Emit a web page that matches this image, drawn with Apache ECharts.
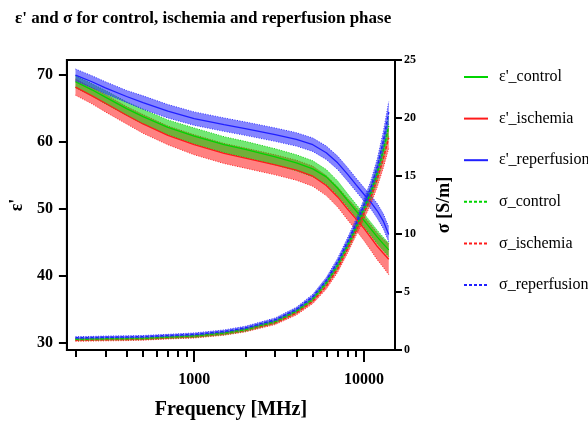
<!DOCTYPE html>
<html><head><meta charset="utf-8">
<script src="https://cdn.jsdelivr.net/npm/echarts@6/dist/echarts.min.js"></script>
<style>html,body{margin:0;padding:0;background:#fff}#c{width:588px;height:432px}</style>
</head><body><div id="c"></div>
<script>
// ---- data ----
const freqMHz = [200, 250, 300, 400, 500, 700, 1000, 1500, 2000, 3000, 4000, 5000, 6000, 7000, 8000, 9000, 10000, 11000, 12000, 13000, 14000];

const epsControl     = [69.0, 67.8, 66.7, 65.0, 63.8, 62.2, 60.9, 59.6, 58.9, 57.8, 56.9, 56.0, 54.8, 53.1, 51.3, 49.7, 48.3, 47.0, 45.8, 44.8, 43.9];
const epsControlSd   = [0.9, 0.9, 1.0, 1.0, 1.1, 1.1, 1.2, 1.2, 1.2, 1.2, 1.2, 1.2, 1.1, 1.1, 1.0, 1.0, 1.0, 1.0, 1.0, 1.0, 1.0];
const epsIschemia    = [68.2, 66.9, 65.8, 64.0, 62.7, 61.0, 59.6, 58.3, 57.6, 56.6, 55.8, 54.9, 53.5, 51.8, 50.0, 48.5, 47.1, 45.7, 44.4, 43.4, 42.5];
const epsIschemiaSd  = [1.2, 1.2, 1.3, 1.3, 1.4, 1.4, 1.5, 1.5, 1.5, 1.5, 1.5, 1.5, 1.5, 1.5, 1.6, 1.7, 1.8, 1.9, 2.0, 2.1, 2.3];
const epsReperf      = [70.0, 69.0, 68.1, 66.8, 65.9, 64.6, 63.5, 62.6, 62.0, 61.1, 60.4, 59.6, 58.4, 56.9, 55.2, 53.6, 52.2, 51.0, 49.7, 48.2, 46.2];
const epsReperfSd    = [0.9, 0.9, 0.9, 0.9, 1.0, 1.0, 1.0, 1.0, 1.0, 1.0, 1.0, 1.0, 1.0, 1.0, 1.0, 1.0, 1.0, 1.0, 1.1, 1.1, 1.1];

const sigControl     = [0.92, 0.94, 0.96, 0.98, 1.0, 1.1, 1.2, 1.45, 1.75, 2.45, 3.35, 4.4, 5.8, 7.3, 9.0, 10.6, 12.2, 13.6, 15.3, 17.2, 19.3];
const sigIschemia    = [0.85, 0.87, 0.89, 0.91, 0.95, 1.05, 1.15, 1.4, 1.7, 2.35, 3.2, 4.2, 5.5, 7.0, 8.7, 10.3, 11.8, 13.2, 14.8, 16.5, 18.3];
const sigReperf      = [1.05, 1.07, 1.1, 1.12, 1.15, 1.25, 1.35, 1.6, 1.9, 2.6, 3.5, 4.6, 6.0, 7.6, 9.3, 10.9, 12.5, 14.0, 15.8, 18.0, 20.5];
const sigSd          = [0.1, 0.1, 0.1, 0.1, 0.1, 0.1, 0.12, 0.13, 0.14, 0.16, 0.18, 0.2, 0.25, 0.3, 0.35, 0.4, 0.5, 0.6, 0.7, 0.8, 0.9];

const xTickMinor = [200, 300, 400, 500, 600, 700, 800, 900, 2000, 3000, 4000, 5000, 6000, 7000, 8000, 9000];
const xTickMajor = [1000, 10000];
const epsTicks = [30, 40, 50, 60, 70];

// ---- styling ----
const FONT = '"Liberation Serif", "Times New Roman", serif';
const GREEN = [0, 212, 0], RED = [255, 26, 26], BLUE = [32, 32, 255];
const rgb = (c, a) => a === undefined ? `rgb(${c[0]},${c[1]},${c[2]})` : `rgba(${c[0]},${c[1]},${c[2]},${a})`;

function pairs(vals) { return freqMHz.map((f, i) => [f, vals[i]]); }

function band(id, mean, sd, color, yIdx) {
  return {
    type: 'custom', name: id, xAxisIndex: 0, yAxisIndex: yIdx, silent: true,
    data: [[freqMHz[0], mean[0]]],
    renderItem: function (params, api) {
      const upper = freqMHz.map((f, i) => api.coord([f, mean[i] + sd[i]]));
      const lower = freqMHz.map((f, i) => api.coord([f, mean[i] - sd[i]]));
      const poly = upper.concat(lower.slice().reverse());
      const edge = { stroke: rgb(color, 0.9), lineWidth: 1, lineDash: [1, 1.5], fill: null };
      return { type: 'group', children: [
        { type: 'polygon', shape: { points: poly }, style: { fill: rgb(color, 0.55), stroke: null } },
        { type: 'polyline', shape: { points: upper }, style: edge },
        { type: 'polyline', shape: { points: lower }, style: edge }
      ] };
    }
  };
}
function meanLine(name, vals, color, yIdx, dashed) {
  return { type: 'line', name: name, xAxisIndex: 0, yAxisIndex: yIdx, data: pairs(vals), symbol: 'none',
    lineStyle: { color: rgb(color), width: dashed ? 1.5 : 1.3, type: dashed ? [3, 2] : 'solid' },
    itemStyle: { color: rgb(color) } };
}

const series = [
  band('ei', epsIschemia, epsIschemiaSd, RED, 0),
  meanLine("ε'_ischemia", epsIschemia, RED, 0, false),
  band('ec', epsControl, epsControlSd, GREEN, 0),
  meanLine("ε'_control", epsControl, GREEN, 0, false),
  band('er', epsReperf, epsReperfSd, BLUE, 0),
  meanLine("ε'_reperfusion", epsReperf, BLUE, 0, false),
  band('si', sigIschemia, sigSd, RED, 1),
  meanLine('σ_ischemia', sigIschemia, RED, 1, true),
  band('sc', sigControl, sigSd, GREEN, 1),
  meanLine('σ_control', sigControl, GREEN, 1, true),
  band('sr', sigReperf, sigSd, BLUE, 1),
  meanLine('σ_reperfusion', sigReperf, BLUE, 1, true)
];

const axisLineStyle = { color: '#000', width: 2 };
const boldLabel = { color: '#000', fontFamily: FONT, fontWeight: 'bold' };

const option = {
  animation: false,
  backgroundColor: '#fff',
  title: {
    text: "ε' and σ for control, ischemia and reperfusion phase",
    left: 10, top: 5,
    textStyle: { fontFamily: FONT, fontWeight: 'bold', fontSize: 17, color: '#000' }
  },
  legend: {
    orient: 'vertical', left: 458, top: 64,
    itemWidth: 24, itemHeight: 14, itemGap: 25.6,
    itemStyle: { opacity: 0 },
    data: ["ε'_control", "ε'_ischemia", "ε'_reperfusion", 'σ_control', 'σ_ischemia', 'σ_reperfusion'],
    textStyle: { fontFamily: FONT, fontSize: 16, color: '#000', padding: [0, 0, 0, 6] }
  },
  grid: { left: 57, right: 193, top: 60, bottom: 82, show: true, borderColor: '#000', borderWidth: 2, backgroundColor: 'transparent' },
  xAxis: [
    { type: 'log', logBase: 10, min: 178, max: 15240, position: 'bottom',
      axisLine: { show: true, lineStyle: axisLineStyle },
      axisTick: { show: true, customValues: xTickMinor, length: 7, lineStyle: axisLineStyle },
      axisLabel: { show: false }, splitLine: { show: false }, minorTick: { show: false } },
    { type: 'log', logBase: 10, min: 178, max: 15240, position: 'bottom',
      axisLine: { show: false },
      axisTick: { show: true, customValues: xTickMajor, length: 12, lineStyle: axisLineStyle },
      axisLabel: Object.assign({ customValues: xTickMajor, fontSize: 16, margin: 22, formatter: v => String(Math.round(v)) }, boldLabel),
      splitLine: { show: false },
      name: 'Frequency [MHz]', nameLocation: 'middle', nameGap: 50,
      nameTextStyle: { fontFamily: FONT, fontWeight: 'bold', fontSize: 20, color: '#000' } }
  ],
  yAxis: [
    { type: 'value', min: 28.95, max: 72.25, position: 'left',
      axisLine: { show: true, lineStyle: axisLineStyle },
      axisTick: { show: true, customValues: epsTicks, length: 8, lineStyle: axisLineStyle },
      axisLabel: Object.assign({ customValues: epsTicks, fontSize: 16, margin: 14 }, boldLabel),
      splitLine: { show: false },
      name: "ε'", nameLocation: 'middle', nameGap: 32, nameRotate: 90,
      nameTextStyle: { fontFamily: FONT, fontWeight: 'bold', fontSize: 18, color: '#000' } },
    { type: 'value', min: 0, max: 25, interval: 5, position: 'right',
      axisLine: { show: true, lineStyle: axisLineStyle },
      axisTick: { show: true, length: 7, lineStyle: axisLineStyle },
      axisLabel: Object.assign({ fontSize: 12, margin: 9 }, boldLabel),
      splitLine: { show: false },
      name: 'σ [S/m]', nameLocation: 'middle', nameGap: 40, nameRotate: 90,
      nameTextStyle: { fontFamily: FONT, fontWeight: 'bold', fontSize: 18, color: '#000' } }
  ],
  series: series
};

const chart = echarts.init(document.getElementById('c'), null, { renderer: 'canvas' });
chart.setOption(option);
</script>
</body></html>
